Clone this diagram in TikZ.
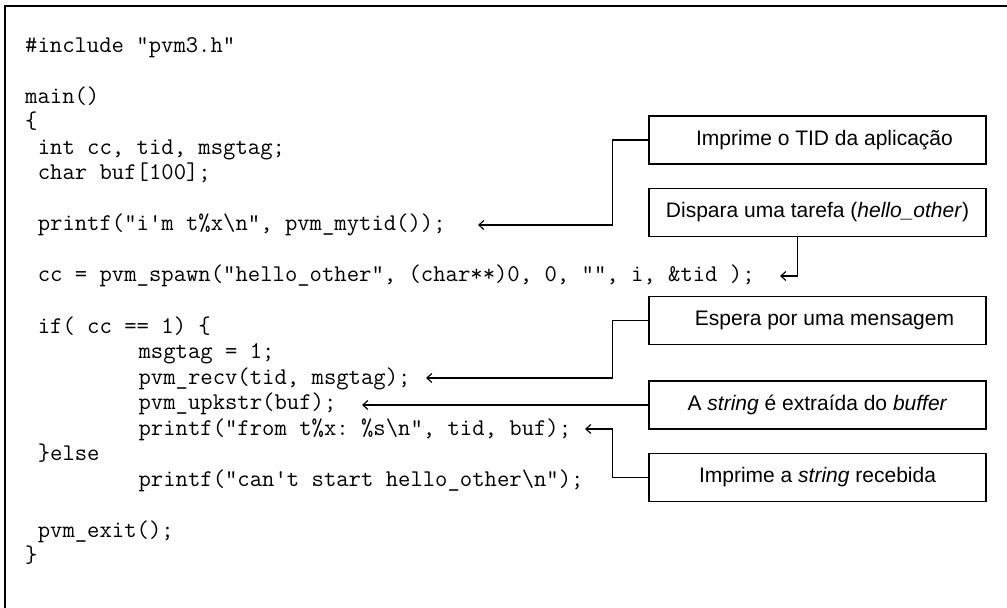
\documentclass[tikz,border=0pt]{standalone}
\usepackage{fontspec}
\setmainfont{Liberation Sans}
\usetikzlibrary{arrows.meta}
\frenchspacing
\begin{document}
\begin{tikzpicture}[x=1bp,y=-1bp,
  code/.style={anchor=base west, inner sep=0, font=\ttfamily\fontsize{24bp}{28bp}\selectfont},
  note/.style={draw, line width=1.2bp, minimum width=337bp, minimum height=48bp, inner sep=0,
               font=\fontsize{21bp}{25bp}\selectfont},
  conn/.style={line width=1.2bp, -{Straight Barb[length=5bp,width=9bp]}},
  frame/.style={line width=2.5bp}]
\useasboundingbox (0,0) rectangle (1007,608);
\draw[frame] (5,608) -- (5,6) -- (1007,6);

% code lines
\node[code] (l1)  at (25,52.5)    {\#include "pvm3.h"};
\node[code] (l3)  at (25,103.5)   {main()};
\node[code] (l4)  at (25,129)     {\{};
\node[code] (l5)  at (37.6,154.5) {int cc, tid, msgtag;};
\node[code] (l6)  at (37.6,180)   {char buf[100];};
\node[code] (l8)  at (37.6,231)   {printf("i'm t\%x\textbackslash n", pvm\_mytid());};
\node[code] (l10) at (37.6,282)   {cc = pvm\_spawn("hello\_other", (char**)0, 0, "", i, \&tid );};
\node[code] (l12) at (37.6,333)   {if( cc == 1) \{};
\node[code] (l13) at (138.4,358.5) {msgtag = 1;};
\node[code] (l14) at (138.4,384)  {pvm\_recv(tid, msgtag);};
\node[code] (l15) at (138.4,409.5) {pvm\_upkstr(buf);};
\node[code] (l16) at (138.4,435)  {printf("from t\%x: \%s\textbackslash n", tid, buf);};
\node[code] (l17) at (37.6,460.5) {\}else};
\node[code] (l18) at (138.4,486)  {printf("can't start hello\_other\textbackslash n");};
\node[code] (l20) at (37.6,537)   {pvm\_exit();};
\node[code] (l21) at (25,562.5)   {\}};

% annotation boxes
\node[note] (b1) at (817.5,140)   {\hspace*{14bp}Imprime o TID da aplicação};
\node[note] (b2) at (817.5,212.5) {Dispara uma tarefa (\textit{hello\_other})};
\node[note] (b3) at (817.5,320.5) {\hspace*{14bp}Espera por uma mensagem};
\node[note] (b4) at (817.5,405)   {A \textit{string} é extraída do \textit{buffer}};
\node[note] (b5) at (817.5,477.5) {Imprime a \textit{string} recebida};

% arrow tips
\coordinate (t1) at (478,225);
\coordinate (t2) at (780,276);
\coordinate (t3) at (426,378);
\coordinate (t4) at (362,405);
\coordinate (t5) at (585,429);

\draw[conn] (b1.west) -- ++(-36,0) |- (t1);
\draw[conn] ([xshift=-20bp]b2.south) |- (t2);
\draw[conn] (b3.west) -- ++(-36,0) |- (t3);
\draw[conn] (b4.west) -- (t4);
\draw[conn] (b5.west) -- ++(-36,0) |- (t5);
\end{tikzpicture}
\end{document}
